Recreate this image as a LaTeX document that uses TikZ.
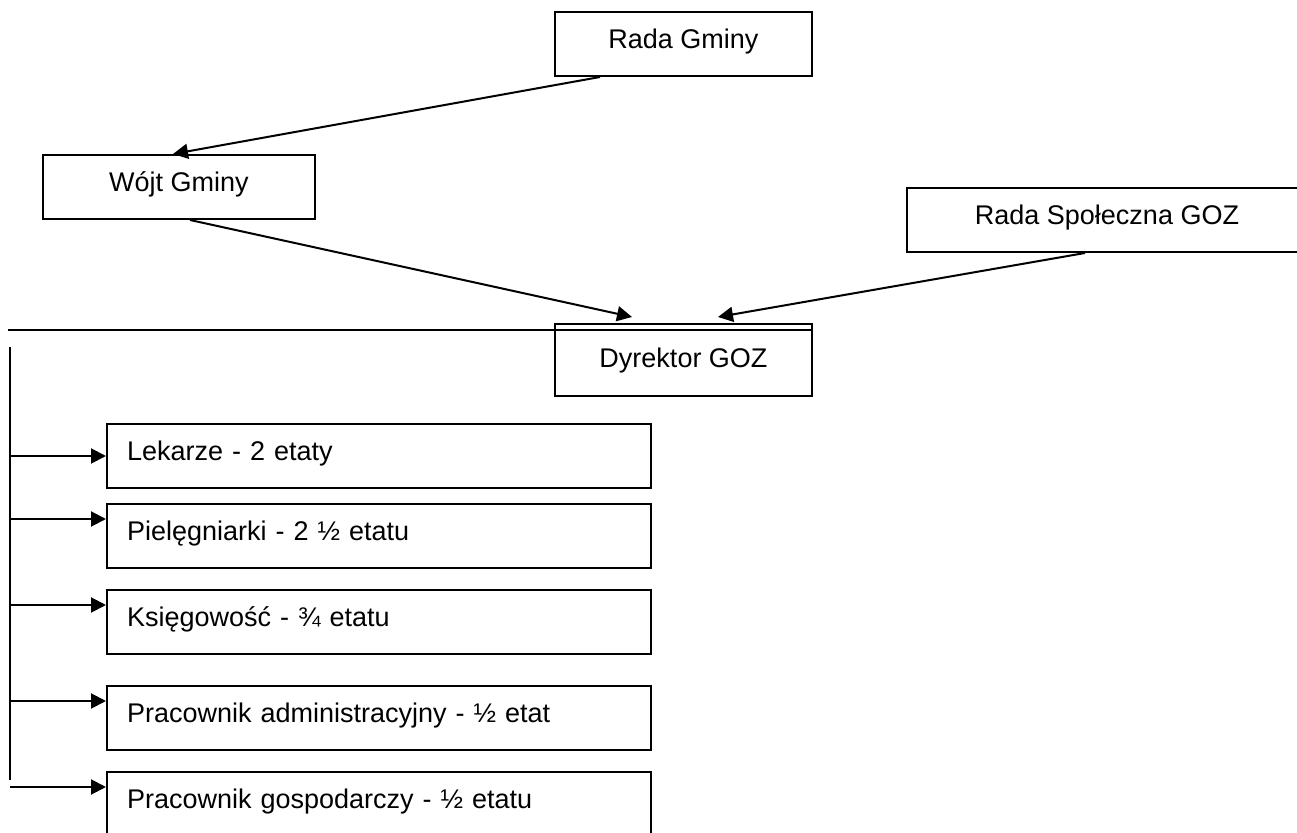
\documentclass[tikz,border=0pt]{standalone}
\usepackage{fontspec}
\setmainfont{Liberation Sans}
\usetikzlibrary{positioning, arrows.meta}

\begin{document}
\begin{tikzpicture}[x=0.5pt, y=-0.5pt, line width=1pt, >={Triangle[length=7.5pt, width=7.5pt]},
   node distance=40pt, on grid,
   organ/.style={draw, rectangle, inner xsep=0pt, inner ysep=0pt, text height=18.5pt, text depth=13.5pt,
                 font=\fontsize{13.5}{16}\selectfont},
   unit/.style={organ, inner xsep=10pt, text width=252pt, align=left}] 
   \useasboundingbox (0,0) rectangle (1297,833);

   \node[organ, minimum width=128.5pt, anchor=north west] (rg) at (554,11) {Rada Gminy};
   \node[organ, minimum width=136pt, anchor=north west] (wojt) at (42,154) {Wójt Gminy};
   \node[organ, minimum width=200pt, anchor=north west] (rs) at (906,187) {Rada Społeczna GOZ};
   \node[organ, minimum width=128.5pt, text height=22pt, text depth=14pt, anchor=north west] (dyr) at (554,323) {Dyrektor GOZ};

   \node[unit, anchor=north west] (lek) at (106,423) {Lekarze - 2 etaty};
   \node[unit] (piel) [below=40pt of lek] {Pielęgniarki - 2 ½ etatu};
   \node[unit] (ksieg) [below=43pt of piel] {Księgowość - ¾ etatu};
   \node[unit] (adm) [below=48pt of ksieg] {Pracownik administracyjny - ½ etat};
   \node[unit] (gosp) [below=43pt of adm] {Pracownik gospodarczy - ½ etatu};

   % linie poziome i pionowe
   \coordinate (bar) at (8,330);
   \coordinate (trunk) at (10,347);
   \coordinate (trunkend) at (10,780);
   \draw (bar) -- (bar -| dyr.east);
   \draw (trunk) -- (trunkend);

   \path[->] 
    ([xshift=23pt]rg.south west) edge ([xshift=65.5pt]wojt.north west)
    ([xshift=74pt]wojt.south west) edge ([xshift=39pt, yshift=3pt]dyr.north west)
    ([xshift=89.5pt]rs.south west) edge ([xshift=82pt, yshift=3pt]dyr.north west);

   \coordinate (lek-in) at (lek.west);
   \coordinate (piel-in) at ([yshift=-8pt]piel.north west);
   \coordinate (ksieg-in) at ([yshift=-8pt]ksieg.north west);
   \coordinate (adm-in) at ([yshift=-8pt]adm.north west);
   \coordinate (gosp-in) at ([yshift=-8pt]gosp.north west);

   \path[->] 
    (trunk |- lek-in) edge (lek-in)
    (trunk |- piel-in) edge (piel-in)
    (trunk |- ksieg-in) edge (ksieg-in)
    (trunk |- adm-in) edge (adm-in)
    (trunk |- gosp-in) edge (gosp-in);
\end{tikzpicture}
\end{document}
